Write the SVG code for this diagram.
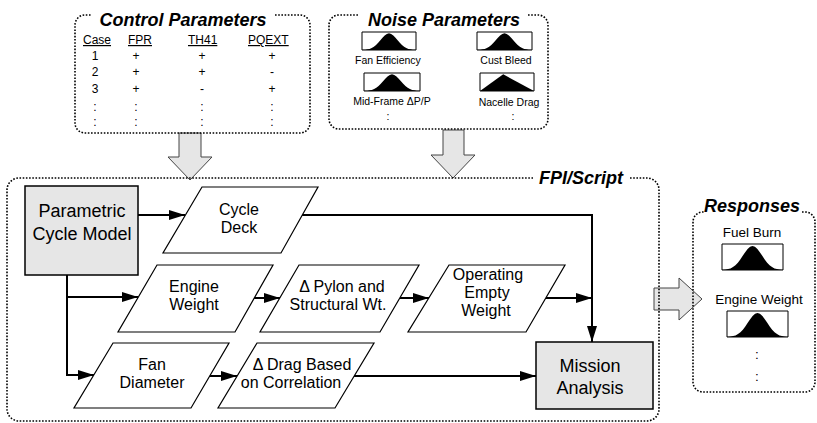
<svg xmlns="http://www.w3.org/2000/svg" xmlns:xlink="http://www.w3.org/1999/xlink" width="817" height="423" viewBox="0 0 817 423">
<style>
text{font-family:"Liberation Sans",Arial,sans-serif;fill:#000}
.title{font-size:18px;font-weight:bold;font-style:italic}
.tbl{font-size:12px;text-anchor:middle}
.hdr{font-size:12px;text-decoration:underline}
.small{font-size:10.5px;text-anchor:middle}
.resp{font-size:13.5px;text-anchor:middle}
.node{font-size:16px;text-anchor:middle}
.big{font-size:18px;text-anchor:middle}
.dotted{fill:none;stroke:#000;stroke-width:1.6;stroke-dasharray:1.6 1.6}
.para{fill:#fff;stroke:#000;stroke-width:1.2}
.box{fill:#e6e6e6;stroke:#000;stroke-width:1.5}
.block{fill:#e6e6e6;stroke:#444;stroke-width:1}
.conn{fill:none;stroke:#000;stroke-width:2;marker-end:url(#ah)}
.line{fill:none;stroke:#000;stroke-width:2}
</style>
<defs>
<marker id="ah" markerWidth="17" markerHeight="11" refX="16" refY="5" orient="auto" markerUnits="userSpaceOnUse">
<path d="M0,0 L16,5 L0,10 z" fill="#000"/>
</marker>
<symbol id="bell" viewBox="0 0 100 40" preserveAspectRatio="none" overflow="visible">
<rect x="0" y="0" width="100" height="40" fill="#fff" stroke="#000" stroke-width="1" vector-effect="non-scaling-stroke"/>
<path d="M0,40 L0,39.8 2,39.7 6,39.3 10,38.6 14,37.5 18,35.5 22,32.7 26,28.7 30,23.8 34,18.2 38,12.5 42,7.6 46,4.2 50,3 54,4.2 58,7.6 62,12.5 66,18.2 70,23.8 74,28.7 78,32.7 82,35.5 86,37.5 90,38.6 94,39.3 98,39.7 100,39.8 100,40 Z" fill="#000"/>
</symbol>
<symbol id="tri" viewBox="0 0 100 40" preserveAspectRatio="none" overflow="visible">
<rect x="0" y="0" width="100" height="40" fill="#fff" stroke="#000" stroke-width="1" vector-effect="non-scaling-stroke"/>
<path d="M0,40 L43,3 L100,40 Z" fill="#000"/>
</symbol>
</defs>

<g id="block-arrows">
<polygon class="block" points="179,133 201,133 201,157 212,157 190,180 168,157 179,157"/>
<polygon class="block" points="443,130 464,130 464,155 475,155 453,178 431,155 443,155"/>
<polygon class="block" points="654,288 679,288 679,278 702,299 679,320 679,310 654,310"/>
</g>

<g id="control-parameters">
<path class="dotted" d="M275,15 H300 A10,10 0 0 1 310,25 V123 A10,10 0 0 1 300,133 H85 A10,10 0 0 1 75,123 V25 A10,10 0 0 1 85,15 H92"/>
<text class="title" x="183" y="26" text-anchor="middle">Control Parameters</text>
<text class="hdr" x="83" y="44">Case</text>
<text class="hdr" x="128" y="44">FPR</text>
<text class="hdr" x="188" y="44">TH41</text>
<text class="hdr" x="248" y="44">PQEXT</text>
<text class="tbl" x="95" y="60">1</text><text class="tbl" x="136" y="60">+</text><text class="tbl" x="202" y="60">+</text><text class="tbl" x="272" y="60">+</text>
<text class="tbl" x="95" y="76">2</text><text class="tbl" x="136" y="76">+</text><text class="tbl" x="202" y="76">+</text><text class="tbl" x="272" y="76">-</text>
<text class="tbl" x="95" y="93">3</text><text class="tbl" x="136" y="93">+</text><text class="tbl" x="202" y="93">-</text><text class="tbl" x="272" y="93">+</text>
<text class="tbl" x="95" y="111">:</text><text class="tbl" x="136" y="111">:</text><text class="tbl" x="202" y="111">:</text><text class="tbl" x="272" y="111">:</text>
<text class="tbl" x="95" y="126">:</text><text class="tbl" x="136" y="126">:</text><text class="tbl" x="202" y="126">:</text><text class="tbl" x="272" y="126">:</text>
</g>

<g id="noise-parameters">
<path class="dotted" d="M528,15 H538 A10,10 0 0 1 548,25 V119 A10,10 0 0 1 538,129 H339 A10,10 0 0 1 329,119 V25 A10,10 0 0 1 339,15 H358"/>
<text class="title" x="444" y="26" text-anchor="middle">Noise Parameters</text>
<use href="#bell" x="362" y="32" width="54" height="18"/>
<text class="small" x="388" y="64">Fan Efficiency</text>
<use href="#bell" x="477" y="32" width="55" height="18"/>
<text class="small" x="506" y="64">Cust Bleed</text>
<use href="#bell" x="364" y="73" width="56" height="18"/>
<text class="small" x="392" y="105">Mid-Frame ΔP/P</text>
<use href="#tri" x="480" y="73" width="54" height="18"/>
<text class="small" x="509" y="106">Nacelle Drag</text>
<text class="small" x="388" y="120">:</text>
<text class="small" x="513" y="120">:</text>
</g>

<g id="fpi-script">
<path class="dotted" d="M630,178 H647 A12,12 0 0 1 659,190 V409 A12,12 0 0 1 647,421 H19 A12,12 0 0 1 7,409 V190 A12,12 0 0 1 19,178 H533"/>
<text class="title" x="581" y="184" text-anchor="middle">FPI/Script</text>
</g>

<g id="responses">
<path class="dotted" d="M802,212 H805 A10,10 0 0 1 815,222 V382 A10,10 0 0 1 805,392 H703 A10,10 0 0 1 693,382 V222 A10,10 0 0 1 703,212 H704"/>
<text class="title" x="752" y="212" text-anchor="middle">Responses</text>
<text class="resp" x="752" y="237">Fuel Burn</text>
<use href="#bell" x="722" y="244" width="61" height="26"/>
<text class="resp" x="759" y="304">Engine Weight</text>
<use href="#bell" x="727" y="311" width="61" height="26"/>
<text class="resp" x="757" y="359">:</text>
<text class="resp" x="757" y="381">:</text>
</g>

<g id="connectors">
<path class="conn" d="M138,215 H185"/>
<path class="conn" d="M302,215 H592 V342"/>
<path class="line" d="M67,275 V297"/>
<path class="conn" d="M67,297 H138"/>
<path class="conn" d="M67,296 V375 H94"/>
<path class="conn" d="M254,298 H280"/>
<path class="conn" d="M400,298 H429"/>
<path class="conn" d="M546,298 H592"/>
<path class="conn" d="M209,376 H237"/>
<path class="conn" d="M354,376 H536"/>
</g>

<g id="parametric-cycle-model">
<rect class="box" x="25" y="186" width="113" height="89"/>
<text class="big" x="82" y="217">Parametric</text>
<text class="big" x="82" y="240">Cycle Model</text>
</g>

<g id="cycle-deck">
<polygon class="para" points="202,187 318,187 281,253 163,253"/>
<text class="node" x="239" y="215">Cycle</text>
<text class="node" x="239" y="233">Deck</text>
</g>

<g id="engine-weight">
<polygon class="para" points="157,265 273,265 235,332 118,332"/>
<text class="node" x="194" y="292">Engine</text>
<text class="node" x="194" y="310">Weight</text>
</g>

<g id="pylon">
<polygon class="para" points="299,265 419,265 380,332 260,332"/>
<text class="node" x="342" y="292">Δ Pylon and</text>
<text class="node" x="338" y="310">Structural Wt.</text>
</g>

<g id="operating-empty-weight">
<polygon class="para" points="449,265 565,265 526,332 408,332"/>
<text class="node" x="488" y="280">Operating</text>
<text class="node" x="487" y="298">Empty</text>
<text class="node" x="486" y="316">Weight</text>
</g>

<g id="fan-diameter">
<polygon class="para" points="113,343 229,343 191,408 74,408"/>
<text class="node" x="152" y="370">Fan</text>
<text class="node" x="152" y="388">Diameter</text>
</g>

<g id="drag">
<polygon class="para" points="257,343 374,343 335,408 218,408"/>
<text class="node" x="302" y="370">Δ Drag Based</text>
<text class="node" x="291" y="388">on Correlation</text>
</g>

<g id="mission-analysis">
<rect class="box" x="536" y="342" width="117" height="67"/>
<text class="big" x="590" y="372">Mission</text>
<text class="big" x="590" y="394">Analysis</text>
</g>
</svg>
